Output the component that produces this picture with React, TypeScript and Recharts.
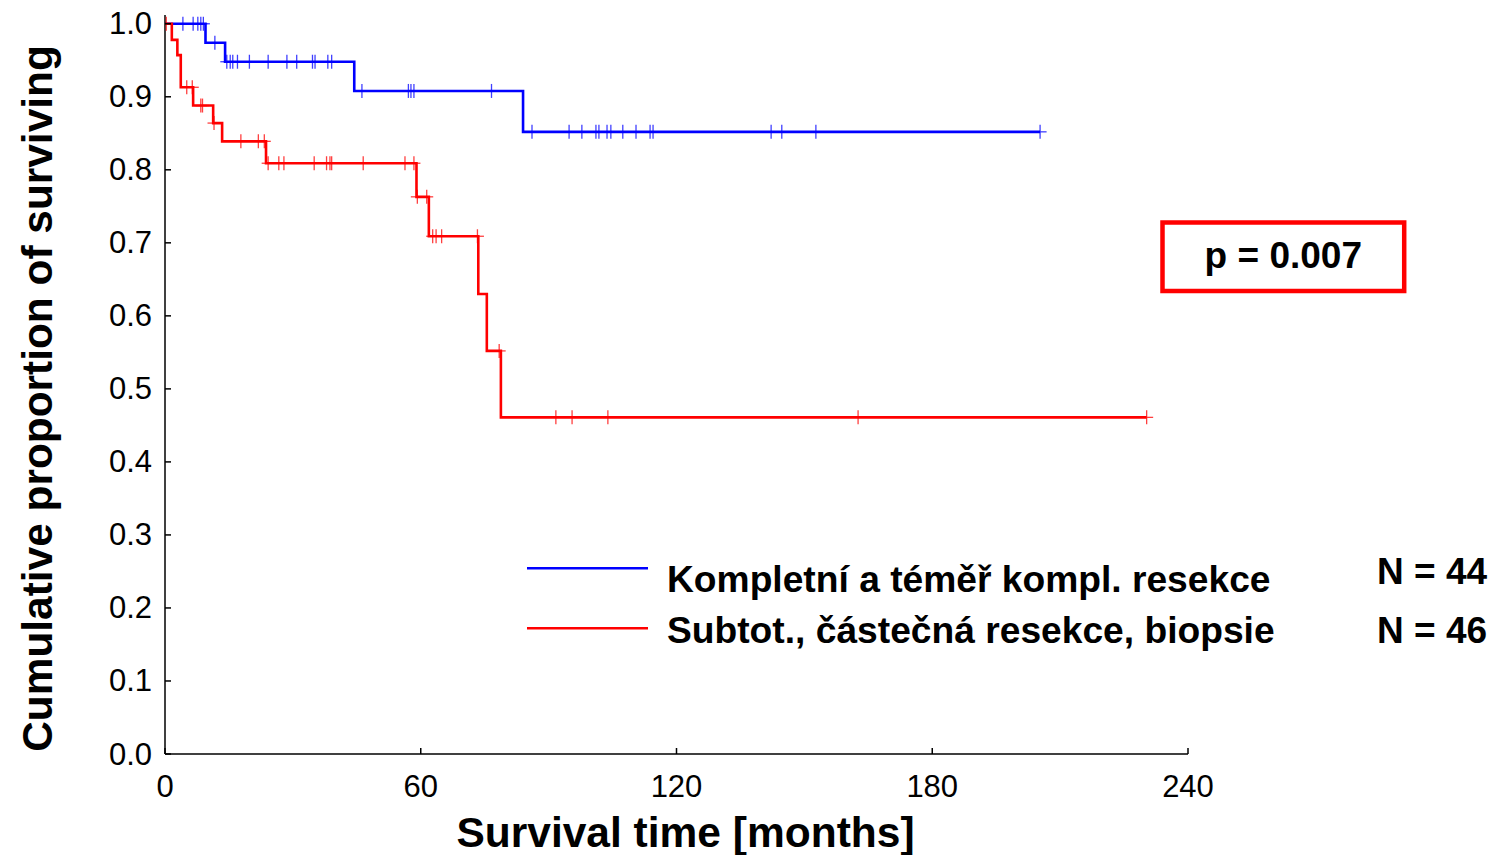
import React from "react";
import { ComposedChart, Line, Scatter, XAxis, YAxis } from "recharts";

// ---- data ----
const blueTimes = [0, 9.5, 14.1, 44.4, 84.0, 205.3];
const blueSurv = [1.0, 0.974, 0.948, 0.908, 0.852, 0.852];
const blueCensored = [
  4.2, 6.6, 7.7, 8.4, 9.0, 11.7, 14.5, 15.3, 15.9, 17.0, 19.8, 24.2, 28.6, 30.9, 34.6, 35.2, 38.2, 39.1,
  46.2, 57.1, 57.7, 58.4, 76.6, 86.1, 94.8, 97.8, 101.1, 101.8, 103.7, 104.6, 107.4, 110.5, 113.8, 114.5,
  142.2, 144.7, 152.7, 205.3,
];

const redTimes = [0, 1.6, 2.9, 3.7, 6.6, 11.3, 13.4, 23.7, 59.0, 61.9, 73.5, 75.5, 78.8, 230.3];
const redSurv = [1.0, 0.978, 0.957, 0.913, 0.888, 0.864, 0.839, 0.809, 0.763, 0.709, 0.63, 0.552, 0.461, 0.461];
const redCensored = [
  0.3, 5.1, 6.4, 8.4, 8.8, 11.5, 17.8, 21.9, 23.3, 24.2, 26.7, 27.9, 35.0, 37.9, 38.7, 39.1, 46.5, 56.3,
  58.4, 59.2, 61.4, 62.8, 63.6, 64.9, 73.3, 78.4, 91.7, 95.5, 103.9, 162.6, 230.3,
];

const xTicks = [0, 60, 120, 180, 240];
const yTicks = [0, 0.1, 0.2, 0.3, 0.4, 0.5, 0.6, 0.7, 0.8, 0.9, 1.0];

const seriesNames = ["Kompletní a téměř kompl. resekce", "Subtot., částečná resekce, biopsie"];
const seriesN = ["N = 44", "N = 46"];
const pValueText = "p = 0.007";
const xTitle = "Survival time [months]";
const yTitle = "Cumulative proportion of surviving";

const BLUE = "#0000FF";
const RED = "#FF0000";
const FONT = "'Liberation Sans', Arial, Helvetica, sans-serif";

// ---- derived tables ----
const toCurve = (times: number[], surv: number[]) => times.map((t, i) => ({ t, s: surv[i] }));
const survAt = (times: number[], surv: number[], t: number) => {
  let v = surv[0];
  for (let i = 0; i < times.length; i++) if (times[i] <= t) v = surv[i];
  return v;
};
const toMarks = (times: number[], surv: number[], cens: number[]) =>
  cens.map((t) => ({ t, s: survAt(times, surv, t) }));

const blueCurve = toCurve(blueTimes, blueSurv);
const redCurve = toCurve(redTimes, redSurv);
const blueMarks = toMarks(blueTimes, blueSurv, blueCensored);
const redMarks = toMarks(redTimes, redSurv, redCensored);

const makeCross = (color: string) => (props: any) => {
  const { cx, cy } = props;
  if (cx == null || cy == null) return <g />;
  return (
    <g stroke={color} strokeWidth={1.3} opacity={0.75}>
      <line x1={cx - 6.5} x2={cx + 6.5} y1={cy} y2={cy} />
      <line x1={cx} x2={cx} y1={cy - 7} y2={cy + 7} />
    </g>
  );
};

const YTick = (props: any) => {
  const { x, y, payload } = props;
  return (
    <g>
      <line x1={x} x2={x + 6} y1={y} y2={y} stroke="#000" strokeWidth={1.5} />
      <text x={x - 13} y={y + 10.5} textAnchor="end" fontSize={31} fontFamily={FONT} fill="#000">
        {Number(payload.value).toFixed(1)}
      </text>
    </g>
  );
};

const XTick = (props: any) => {
  const { x, y, payload } = props;
  return (
    <g>
      <line x1={x} x2={x} y1={y} y2={y - 6} stroke="#000" strokeWidth={1.5} />
      <text x={x} y={y + 43} textAnchor="middle" fontSize={31} fontFamily={FONT} fill="#000">
        {payload.value}
      </text>
    </g>
  );
};

export default function App() {
  return (
    <div style={{ position: "absolute", left: 0, top: 0, width: 1503, height: 855, background: "#fff" }}>
      <ComposedChart
        width={1503}
        height={855}
        margin={{ top: 15, right: 315, bottom: 41, left: 0 }}
      >
        <XAxis
          dataKey="t"
          type="number"
          domain={[0, 240]}
          ticks={xTicks}
          allowDataOverflow
          height={60}
          tickLine={false}
          tickSize={0}
          tickMargin={0}
          tick={<XTick />}
          axisLine={{ stroke: "#000", strokeWidth: 1.5 }}
        />
        <YAxis
          type="number"
          domain={[0, 1.012]}
          ticks={yTicks}
          allowDataOverflow
          width={165}
          tickLine={false}
          tickSize={0}
          tickMargin={0}
          tick={<YTick />}
          axisLine={{ stroke: "#000", strokeWidth: 1.5 }}
        />
        <Line
          data={blueCurve}
          dataKey="s"
          type="stepAfter"
          stroke={BLUE}
          strokeWidth={2.6}
          dot={false}
          isAnimationActive={false}
        />
        <Line
          data={redCurve}
          dataKey="s"
          type="stepAfter"
          stroke={RED}
          strokeWidth={2.6}
          dot={false}
          isAnimationActive={false}
        />
        <Scatter data={blueMarks} dataKey="s" shape={makeCross(BLUE)} isAnimationActive={false} />
        <Scatter data={redMarks} dataKey="s" shape={makeCross(RED)} isAnimationActive={false} />
      </ComposedChart>
      <svg
        width={1503}
        height={855}
        style={{ position: "absolute", left: 0, top: 0, pointerEvents: "none" }}
      >
        <text
          transform="translate(52,398.5) rotate(-90)"
          textAnchor="middle"
          fontSize={42.4}
          fontWeight="bold"
          fontFamily={FONT}
          fill="#000"
        >
          {yTitle}
        </text>
        <text x={685.5} y={847} textAnchor="middle" fontSize={42.5} fontWeight="bold" fontFamily={FONT} fill="#000">
          {xTitle}
        </text>
        <line x1={527} x2={648} y1={568.3} y2={568.3} stroke={BLUE} strokeWidth={2.6} />
        <line x1={527} x2={648} y1={628.3} y2={628.3} stroke={RED} strokeWidth={2.6} />
        <text x={667} y={591.7} fontSize={37.2} fontWeight="bold" fontFamily={FONT} fill="#000">
          {seriesNames[0]}
        </text>
        <text x={667} y={643} fontSize={37.2} fontWeight="bold" fontFamily={FONT} fill="#000">
          {seriesNames[1]}
        </text>
        <text x={1377} y={584} fontSize={37} fontWeight="bold" fontFamily={FONT} fill="#000">
          {seriesN[0]}
        </text>
        <text x={1377} y={643} fontSize={37} fontWeight="bold" fontFamily={FONT} fill="#000">
          {seriesN[1]}
        </text>
        <rect x={1162.5} y={222.5} width={241.7} height={68.5} fill="none" stroke={RED} strokeWidth={4.5} />
        <text x={1283.3} y={268.3} textAnchor="middle" fontSize={37} fontWeight="bold" fontFamily={FONT} fill="#000">
          {pValueText}
        </text>
      </svg>
    </div>
  );
}
